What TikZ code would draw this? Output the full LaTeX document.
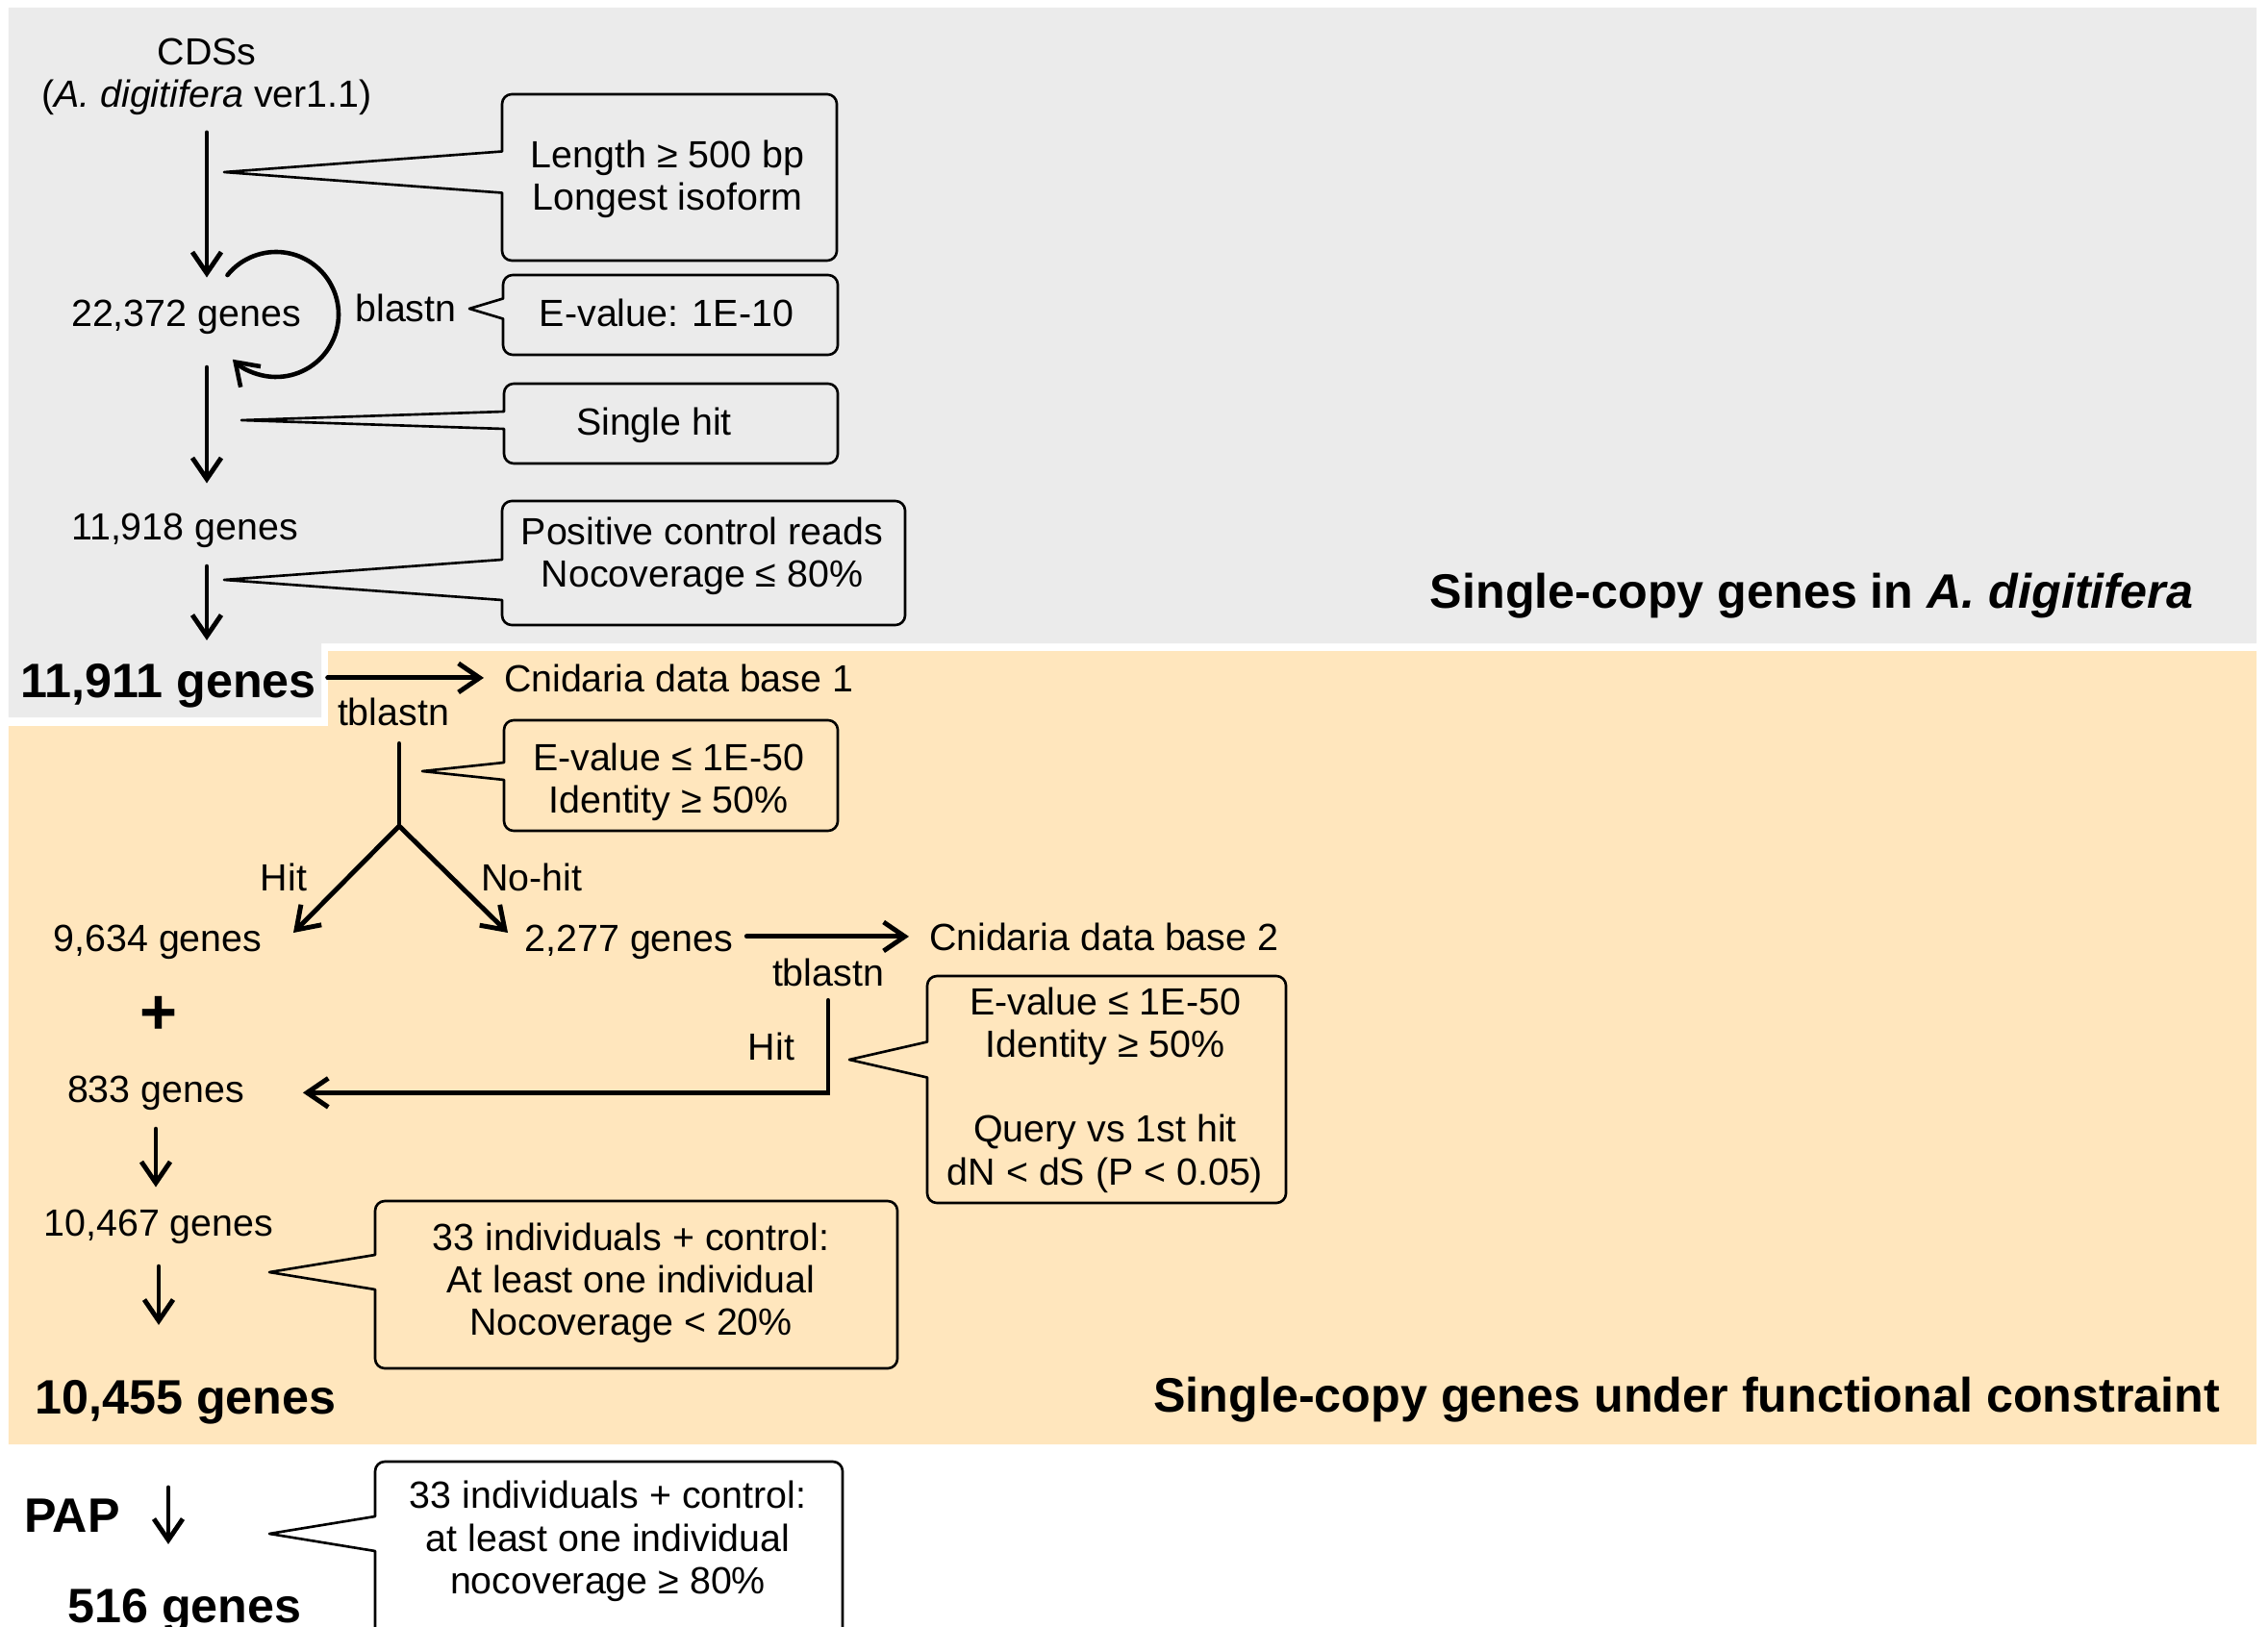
\documentclass[tikz,border=0pt]{standalone}
\usepackage{fontspec}
\setmainfont{Liberation Sans}
\usepackage{tikz}
\usetikzlibrary{arrows.meta}

\definecolor{graybg}{HTML}{EBEBEB}
\definecolor{orangebg}{HTML}{FFE6BD}

% rounded box with a pointer on its left side
% #1 left, #2 top, #3 right, #4 bottom, #5 tip x, #6 tip y, #7 half base
\newcommand{\callbox}[7]{%
	\draw[cbox] (#1,#6+#7) -- (#1,#2-0.1) arc[start angle=180, end angle=90, radius=0.1]
	-- (#3-0.1,#2) arc[start angle=90, end angle=0, radius=0.1]
	-- (#3,#4+0.1) arc[start angle=0, end angle=-90, radius=0.1]
	-- (#1+0.1,#4) arc[start angle=270, end angle=180, radius=0.1]
	-- (#1,#6-#7) -- (#5,#6) -- cycle;}

\begin{document}
\begin{tikzpicture}[
			every node/.style={font=\fontsize{11.2}{12.6}\selectfont, inner sep=0pt, outer sep=0pt},
			big/.style={font=\fontsize{14.3}{16}\selectfont\bfseries},
			arr/.style={-{Straight Barb[length=2.2mm, width=3mm]}, line width=1.4pt},
			cbox/.style={line width=0.75pt, line join=round},
			line cap=round
			]
			\clip (0,0) rectangle (23.58,-16.92);
			\useasboundingbox (0,0) rectangle (23.58,-16.92);
			
			% Backgrounds
			\fill[graybg] (0.09,-0.08) -- (23.46,-0.08) -- (23.46,-6.69) -- (3.34,-6.69)
			-- (3.34,-7.46) -- (0.09,-7.46) -- cycle;
			\fill[orangebg] (3.41,-6.77) -- (23.46,-6.77) -- (23.46,-15.02) -- (0.09,-15.02)
			-- (0.09,-7.55) -- (3.41,-7.55) -- cycle;
			
			% Gene counts
			\node[align=center] (cds) at (2.15,-0.80) {CDSs\\(\textit{A. digitifera} ver1.1)};
			\node[anchor=base] (g22372) at (1.935,-3.40) {22,372 genes};
			\node[anchor=base] (blastn) at (4.22,-3.35) {blastn};
			\node[anchor=base] (g11918) at (1.92,-5.62) {11,918 genes};
			\node[big, anchor=base] (g11911) at (1.75,-7.25) {11,911 genes};
			\node[anchor=base west] (cdb1) at (5.24,-7.19) {Cnidaria data base 1};
			\node[anchor=base] (tbl1) at (4.09,-7.54) {tblastn};
			\node[anchor=base] (hit1) at (2.95,-9.26) {Hit};
			\node[anchor=base] (nohit1) at (5.53,-9.26) {No-hit};
			\node[anchor=base] (g9634) at (1.64,-9.89) {9,634 genes};
			\node[anchor=base] (g2277) at (6.54,-9.89) {2,277 genes};
			\node[anchor=base west] (cdb2) at (9.66,-9.88) {Cnidaria data base 2};
			\node[anchor=base] (tbl2) at (8.61,-10.25) {tblastn};
			\node[anchor=base] (hit2) at (8.02,-11.02) {Hit};
			\node[big, font=\fontsize{19}{20}\selectfont\bfseries] (plus) at (1.65,-10.56) {+};
			\node[anchor=base] (g833) at (1.62,-11.46) {833 genes};
			\node[anchor=base] (g10467) at (1.65,-12.85) {10,467 genes};
			\node[big, anchor=base] (g10455) at (1.93,-14.70) {10,455 genes};
			\node[big, anchor=base] (pap) at (0.75,-15.93) {PAP};
			\node[big, anchor=base] (g516) at (1.92,-16.87) {516 genes};
			
			% Region titles
			\node[big, anchor=base east] (title1) at (22.80,-6.32) {Single-copy genes in \textit{A. digitifera}};
			\node[big, anchor=base east] (title2) at (23.08,-14.68) {Single-copy genes under functional constraint};
			
			% Filter boxes
			\callbox{5.22}{-0.98}{8.70}{-2.71}{2.33}{-1.79}{0.215}
			\callbox{5.23}{-2.86}{8.71}{-3.69}{4.88}{-3.21}{0.105}
			\callbox{5.24}{-3.99}{8.71}{-4.82}{2.51}{-4.37}{0.09}
			\callbox{5.22}{-5.21}{9.41}{-6.50}{2.33}{-6.03}{0.21}
			\callbox{5.24}{-7.49}{8.71}{-8.64}{4.39}{-8.02}{0.09}
			\callbox{9.64}{-10.15}{13.37}{-12.51}{8.83}{-11.02}{0.185}
			\callbox{3.90}{-12.49}{9.33}{-14.23}{2.80}{-13.23}{0.18}
			\callbox{3.90}{-15.20}{8.76}{-17.20}{2.80}{-15.95}{0.18}
			
			\node[align=center] (flen) at (6.94,-1.865) {Length ≥ 500 bp\\Longest isoform};
			\node (feval) at (6.93,-3.25) {E-value: 1E-10};
			\node (fsingle) at (6.80,-4.425) {Single hit};
			\node[align=center] (fpos) at (7.30,-5.785) {Positive control reads\\Nocoverage ≤ 80\%};
			\node[align=center] (fdb1) at (6.95,-8.135) {E-value ≤ 1E-50\\Identity ≥ 50\%};
			\node[align=center] (fdb2) at (11.49,-11.335) {E-value ≤ 1E-50\\Identity ≥ 50\%\\[12.6pt]Query vs 1st hit\\dN < dS (P < 0.05)};
			\node[align=center] (find) at (6.56,-13.345) {33 individuals + control:\\At least one individual\\Nocoverage < 20\%};
			\node[align=center] (fpap) at (6.32,-16.03) {33 individuals + control:\\at least one individual\\nocoverage ≥ 80\%};
			
			% Arrows, first part
			\draw[arr, shorten <=0.18cm, shorten >=0.24cm] (cds.south) -- (cds.south |- g22372.north);
			\draw[arr, shorten <=0.34cm, shorten >=0.32cm] (cds.south |- g22372.south) -- (cds.south |- g11918.north);
			\draw[arr, shorten <=0.19cm, shorten >=0.24cm] (cds.south |- g11918.south) -- (cds.south |- g11911.north);
			
			% blastn loop
			\coordinate (loopc) at (2.87,-3.27);
			\draw[arr, line width=1.3pt] ([shift={(141:0.65)}]loopc) arc[start angle=141, end angle=-134, radius=0.65];
			
			% Cnidaria data base 1
			\draw[arr, shorten <=0.12cm, shorten >=0.21cm] (g11911.east |- cdb1.west) -- (cdb1.west);
			\coordinate (fork1) at (4.15,-8.59);
			\coordinate (hitend) at (3.05,-9.70);
			\coordinate (nohitend) at (5.28,-9.70);
			\draw[line width=1.4pt, shorten <=0.19cm] (fork1 |- tbl1.south) -- (fork1);
			\draw[arr] (fork1) -- (hitend);
			\draw[arr] (fork1) -- (nohitend);
			
			% Cnidaria data base 2
			\draw[arr, shorten <=0.14cm, shorten >=0.21cm] (g2277.east |- cdb2.west) -- (cdb2.west);
			\draw[arr, shorten <=0.15cm, shorten >=0.61cm] (tbl2.south) |- (g833.east);
			
			% Down to the final sets
			\draw[arr, shorten <=0.2cm, shorten >=0.23cm] (g833.south) -- (g833.south |- g10467.north);
			\draw[arr, shorten <=0.24cm, shorten >=0.57cm] (g10467.south) -- (g10467.south |- g10455.north);
			\coordinate (papar) at (1.75,-15.47);
			\draw[arr, shorten >=0.46cm] (papar) -- (papar |- g516.north);
		\end{tikzpicture}
\end{document}
